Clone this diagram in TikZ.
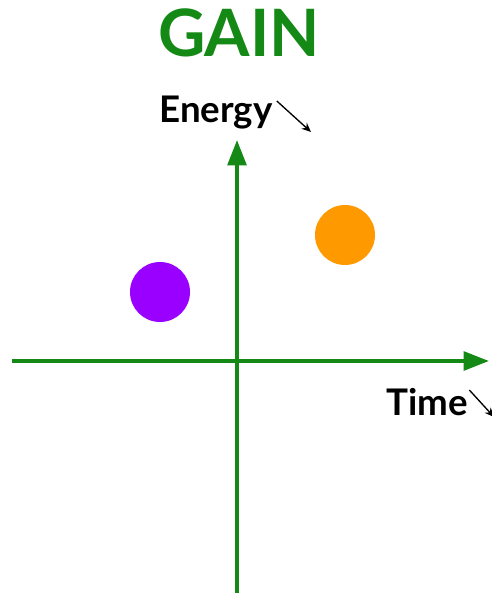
\documentclass[tikz,border=0pt]{standalone}
\usepackage{fontspec}
\setmainfont{Lato}
\usepackage{tikz}
\usetikzlibrary{arrows.meta}

\definecolor{gaingreen}{RGB}{20,137,22}
\definecolor{dotpurple}{RGB}{153,0,255}
\definecolor{dotorange}{RGB}{255,153,0}

\begin{document}
\begin{tikzpicture}[
    x=0.75pt, y=-0.75pt,
    axis/.style={draw=gaingreen, line width=2.8pt, -{Triangle[length=19pt,width=14pt]}},
    label/.style={font=\bfseries\fontsize{27.5}{31}\selectfont, inner sep=0pt},
    pointer/.style={-{Stealth[length=7pt,width=6pt]}, line width=1pt},
    dot/.style={circle, minimum size=45pt, inner sep=0pt}
]
\useasboundingbox (0,0) rectangle (492,593);

\node (title) at (239,33) [font=\bfseries\fontsize{49}{53}\selectfont, text=gaingreen] {GAIN};

\coordinate (xstart) at (12,361);
\coordinate (xend) at (489,361);
\coordinate (ystart) at (237,593);
\coordinate (yend) at (237,140);

\draw[axis] (xstart) -- (xend);
\draw[axis] (ystart) -- (yend);

\node (energy) at (216,113) [label] {Energy};
\node (time) at (427,402) [label] {Time};
\coordinate (energytip) at (311,132);
\coordinate (timetip) at (494,417);
\draw[pointer] ([xshift=3pt,yshift=9pt]energy.east) -- (energytip);
\draw[pointer] ([xshift=1pt,yshift=9pt]time.east) -- (timetip);

\node (purple) at (160,292) [dot, fill=dotpurple] {};
\node (orange) at (345,235) [dot, fill=dotorange] {};

\end{tikzpicture}
\end{document}
